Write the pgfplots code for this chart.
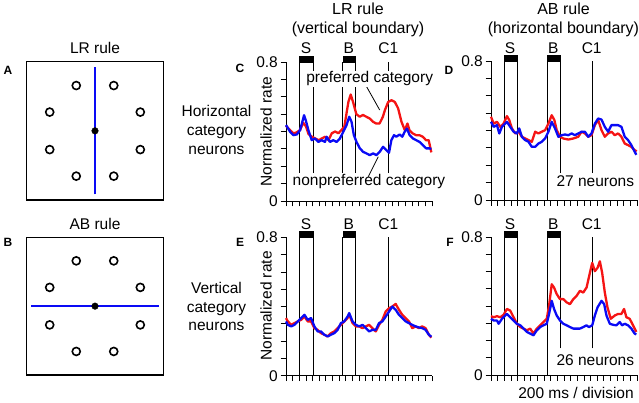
\documentclass[border=0pt]{standalone}
\usepackage{fontspec}
\setmainfont{Liberation Sans}
\usepackage{pgfplots}
\pgfplotsset{compat=1.18}
\newcommand\lab{\fontsize{15.5}{18.7}\selectfont}
\newcommand\ttl{\fontsize{16}{19}\selectfont}
\newcommand\plet{\fontsize{12}{14}\selectfont\bfseries}
\definecolor{myred}{RGB}{245,20,20}
\definecolor{myblue}{RGB}{10,10,245}
\pgfplotsset{
  panel/.style={
    scale only axis, width=146pt, height=139pt, anchor=south west,
    xmin=0, xmax=22, ymin=0, ymax=0.8,
    axis x line*=bottom, axis y line*=left,
    xtick={0,1,...,22}, xticklabel=\empty,
    ytick={0,0.1,0.2,0.3,0.4,0.5,0.6,0.7,0.8},
    yticklabels={0,,,,,,,,0.8},
    tick align=outside, major tick length=5.5pt,
    tick style={black, line width=0.8pt},
    axis line style={black, line width=0.9pt},
    yticklabel style={font=\lab, inner xsep=2.5pt},
    /pgf/number format/assume math mode=true,
    clip=false,
  },
  ev/.style={black, line width=0.9pt},
  rc/.style={myred, line width=2.3pt, line join=round},
  bc/.style={myblue, line width=2.3pt, line join=round},
  sq/.style={
    scale only axis, anchor=south west, ticks=none,
    axis line style={black, line width=1.4pt}, clip=false,
  },
  circ/.style={only marks, mark=o, mark size=4pt, mark options={line width=1.6pt, black}},
}
\begin{document}
\begin{tikzpicture}[x=1pt,y=1pt]
\useasboundingbox (0,0) rectangle (639,402);

% ---------- Panel A ----------
\begin{axis}[sq, at={(26.7pt,202pt)}, width=136.6pt, height=138.3pt,
  xmin=-68.3, xmax=68.3, ymin=-69.15, ymax=69.15]
\addplot[myblue, line width=1.6pt] coordinates {(0,-63.5) (0,63.5)};
\addplot[circ]
  coordinates {(-18.75,45.3) (18.75,45.3) (-45.3,18.75) (45.3,18.75)
               (-45.3,-18.75) (45.3,-18.75) (-18.75,-45.3) (18.75,-45.3)};
\addplot[only marks, mark=*, mark size=3.3pt, black] coordinates {(0,0)};
\end{axis}

% ---------- Panel B ----------
\begin{axis}[sq, at={(26.7pt,27pt)}, width=136.6pt, height=137.7pt,
  xmin=-68.3, xmax=68.3, ymin=-68.85, ymax=68.85]
\addplot[myblue, line width=1.6pt] coordinates {(-64,0) (64,0)};
\addplot[circ]
  coordinates {(-18.75,45.3) (18.75,45.3) (-45.3,18.75) (45.3,18.75)
               (-45.3,-18.75) (45.3,-18.75) (-18.75,-45.3) (18.75,-45.3)};
\addplot[only marks, mark=*, mark size=3.3pt, black] coordinates {(0,0)};
\end{axis}

% ---------- Panel C ----------
\begin{axis}[panel, at={(286pt,201pt)}]
\addplot[ev] coordinates {(2.05,0.16) (2.05,0.8)};
\addplot[ev] coordinates {(4.07,0.16) (4.07,0.8)};
\addplot[ev] coordinates {(8.55,0.16) (8.55,0.8)};
\addplot[ev] coordinates {(10.45,0.16) (10.45,0.8)};
\addplot[ev] coordinates {(15.4,0.16) (15.4,0.8)};
\addplot[fill=black, draw=black] coordinates {(2.05,0.8) (4.07,0.8) (4.07,0.835) (2.05,0.835)} -- cycle;
\addplot[fill=black, draw=black] coordinates {(8.55,0.8) (10.45,0.8) (10.45,0.835) (8.55,0.835)} -- cycle;
\addplot[rc] coordinates {(0,0.433)(0.6,0.408)(1.1,0.389)(1.6,0.395)(2.1,0.408)(2.6,0.45)(3.0,0.43)(3.4,0.385)(3.9,0.37)(4.4,0.36)(4.9,0.35)(5.4,0.36)(5.9,0.37)(6.4,0.35)(6.9,0.39)(7.4,0.40)(7.9,0.39)(8.4,0.41)(8.8,0.43)(9.1,0.50)(9.4,0.57)(9.75,0.613)(10.1,0.57)(10.6,0.50)(11.1,0.485)(11.6,0.495)(12.1,0.485)(12.6,0.475)(13.1,0.456)(13.6,0.446)(14.1,0.446)(14.6,0.485)(14.9,0.523)(15.4,0.57)(15.9,0.58)(16.4,0.57)(16.9,0.533)(17.4,0.456)(17.9,0.408)(18.3,0.446)(18.6,0.408)(19.1,0.389)(19.6,0.379)(20.1,0.379)(20.6,0.37)(21.1,0.35)(21.5,0.35)(21.9,0.28)};
\addplot[bc] coordinates {(0,0.437)(0.625,0.398)(1.125,0.379)(1.625,0.383)(2.125,0.408)(2.525,0.465)(2.725,0.494)(2.975,0.465)(3.375,0.408)(3.875,0.35)(4.375,0.36)(4.875,0.34)(5.375,0.35)(5.875,0.34)(6.125,0.37)(6.625,0.34)(7.125,0.35)(7.625,0.34)(8.125,0.36)(8.625,0.398)(9.125,0.437)(9.525,0.485)(9.875,0.456)(10.225,0.379)(10.625,0.34)(11.125,0.303)(11.625,0.283)(12.125,0.274)(12.625,0.264)(13.125,0.274)(13.625,0.264)(14.125,0.283)(14.625,0.312)(15.125,0.293)(15.525,0.278)(15.875,0.35)(16.275,0.379)(16.625,0.37)(17.125,0.383)(17.525,0.37)(17.875,0.398)(18.225,0.417)(18.625,0.379)(19.125,0.36)(19.625,0.35)(20.125,0.34)(20.625,0.322)(21.125,0.303)(21.625,0.303)(21.9,0.299)};
\end{axis}

% ---------- Panel D ----------
\begin{axis}[panel, at={(491pt,202pt)}]
\addplot[ev] coordinates {(2.0,0) (2.0,0.8)};
\addplot[ev] coordinates {(4.02,0) (4.02,0.8)};
\addplot[ev] coordinates {(8.5,0) (8.5,0.8)};
\addplot[ev] coordinates {(10.4,0.155) (10.4,0.8)};
\addplot[ev] coordinates {(15.35,0.155) (15.35,0.8)};
\addplot[fill=black, draw=black] coordinates {(2.0,0.8) (4.02,0.8) (4.02,0.835) (2.0,0.835)} -- cycle;
\addplot[fill=black, draw=black] coordinates {(8.5,0.8) (10.4,0.8) (10.4,0.835) (8.5,0.835)} -- cycle;
\addplot[rc] coordinates {(0,0.479)(0.4,0.44)(0.9,0.45)(1.4,0.421)(1.9,0.44)(2.4,0.483)(2.75,0.46)(3.15,0.412)(3.65,0.383)(4.15,0.393)(4.65,0.364)(5.15,0.354)(5.65,0.345)(6.15,0.335)(6.65,0.393)(7.15,0.383)(7.65,0.393)(8.15,0.402)(8.65,0.44)(9.15,0.488)(9.55,0.46)(9.9,0.402)(10.4,0.364)(10.9,0.354)(11.65,0.348)(12.4,0.354)(13.15,0.364)(13.65,0.393)(14.15,0.383)(14.65,0.364)(15.15,0.373)(15.65,0.431)(16.15,0.46)(16.65,0.402)(17.15,0.364)(17.65,0.383)(18.15,0.393)(18.65,0.373)(19.15,0.383)(19.65,0.364)(20.15,0.325)(20.65,0.316)(21.15,0.306)(21.65,0.287)(21.95,0.28)};
\addplot[bc] coordinates {(0,0.45)(0.4,0.421)(0.9,0.431)(1.25,0.383)(1.65,0.421)(2.4,0.45)(2.9,0.421)(3.4,0.393)(3.9,0.383)(4.25,0.412)(4.65,0.364)(5.15,0.345)(5.65,0.335)(6.15,0.306)(6.65,0.306)(7.15,0.325)(7.65,0.335)(8.15,0.354)(8.65,0.393)(9.15,0.45)(9.65,0.412)(10.15,0.364)(10.65,0.373)(11.15,0.377)(11.65,0.373)(12.15,0.383)(12.65,0.373)(13.15,0.383)(13.65,0.393)(14.15,0.393)(14.65,0.364)(15.15,0.383)(15.65,0.44)(16.15,0.469)(16.65,0.463)(17.15,0.421)(17.65,0.393)(18.15,0.431)(18.65,0.431)(19.15,0.431)(19.65,0.421)(20.15,0.364)(20.65,0.345)(21.15,0.316)(21.65,0.278)(21.9,0.26)};
\end{axis}

% ---------- Panel E ----------
\begin{axis}[panel, at={(286pt,26.3pt)}, height=138.4pt]
\addplot[ev] coordinates {(2.05,0) (2.05,0.8)};
\addplot[ev] coordinates {(4.07,0) (4.07,0.8)};
\addplot[ev] coordinates {(8.55,0) (8.55,0.8)};
\addplot[ev] coordinates {(10.45,0) (10.45,0.8)};
\addplot[ev] coordinates {(15.4,0) (15.4,0.8)};
\addplot[fill=black, draw=black] coordinates {(2.05,0.8) (4.07,0.8) (4.07,0.835) (2.05,0.835)} -- cycle;
\addplot[fill=black, draw=black] coordinates {(8.55,0.8) (10.45,0.8) (10.45,0.835) (8.55,0.835)} -- cycle;
\addplot[rc] coordinates {(0,0.333)(0.275,0.314)(0.775,0.294)(1.275,0.304)(1.775,0.314)(2.275,0.323)(2.775,0.342)(3.275,0.314)(3.775,0.314)(4.275,0.275)(4.775,0.265)(5.275,0.246)(5.775,0.237)(6.275,0.227)(6.775,0.246)(7.275,0.256)(7.775,0.275)(8.275,0.294)(8.775,0.314)(9.275,0.333)(9.525,0.352)(10.025,0.304)(10.525,0.285)(11.025,0.285)(11.525,0.275)(12.025,0.285)(12.525,0.294)(13.025,0.275)(13.525,0.256)(14.025,0.294)(14.525,0.323)(15.025,0.371)(15.525,0.39)(16.025,0.4)(16.525,0.415)(17.025,0.381)(17.525,0.352)(18.025,0.333)(18.525,0.314)(19.025,0.275)(19.525,0.285)(20.025,0.275)(20.525,0.285)(21.025,0.275)(21.525,0.237)(21.9,0.22)};
\addplot[bc] coordinates {(0,0.314)(0.275,0.294)(0.775,0.285)(1.275,0.294)(1.775,0.314)(2.275,0.333)(2.775,0.352)(3.275,0.323)(3.775,0.333)(4.275,0.285)(4.775,0.256)(5.275,0.256)(5.775,0.237)(6.275,0.227)(6.775,0.237)(7.275,0.246)(7.775,0.265)(8.275,0.304)(8.775,0.314)(9.275,0.342)(9.525,0.362)(10.025,0.314)(10.525,0.294)(11.025,0.285)(11.525,0.294)(12.025,0.275)(12.525,0.256)(13.025,0.265)(13.525,0.265)(14.025,0.304)(14.525,0.314)(15.025,0.342)(15.525,0.371)(16.025,0.4)(16.525,0.381)(17.025,0.352)(17.525,0.333)(18.025,0.314)(18.525,0.304)(19.025,0.294)(19.525,0.285)(20.025,0.279)(20.525,0.275)(21.025,0.265)(21.525,0.237)(21.9,0.225)};
\end{axis}

% ---------- Panel F ----------
\begin{axis}[panel, at={(491pt,27pt)}, height=138pt]
\addplot[ev] coordinates {(2.0,0) (2.0,0.8)};
\addplot[ev] coordinates {(4.02,0) (4.02,0.8)};
\addplot[ev] coordinates {(8.5,0) (8.5,0.8)};
\addplot[ev] coordinates {(10.4,0.155) (10.4,0.8)};
\addplot[ev] coordinates {(15.35,0.155) (15.35,0.8)};
\addplot[fill=black, draw=black] coordinates {(2.0,0.8) (4.02,0.8) (4.02,0.835) (2.0,0.835)} -- cycle;
\addplot[fill=black, draw=black] coordinates {(8.5,0.8) (10.4,0.8) (10.4,0.835) (8.5,0.835)} -- cycle;
\addplot[rc] coordinates {(0,0.341)(0.4,0.335)(0.9,0.341)(1.4,0.335)(1.9,0.349)(2.4,0.383)(2.9,0.373)(3.4,0.335)(3.9,0.297)(4.4,0.278)(4.9,0.269)(5.4,0.259)(5.9,0.269)(6.4,0.24)(6.9,0.269)(7.4,0.288)(7.9,0.307)(8.4,0.326)(8.75,0.402)(9.15,0.526)(9.5,0.507)(9.9,0.469)(10.4,0.44)(10.9,0.44)(11.4,0.421)(11.9,0.411)(12.4,0.44)(12.9,0.459)(13.4,0.488)(13.9,0.478)(14.4,0.507)(14.9,0.592)(15.25,0.65)(15.65,0.602)(16.05,0.621)(16.4,0.659)(16.75,0.592)(17.15,0.478)(17.55,0.392)(18.05,0.326)(18.65,0.345)(19.15,0.354)(19.65,0.354)(20.05,0.383)(20.4,0.335)(20.9,0.326)(21.4,0.288)(21.9,0.25)};
\addplot[bc] coordinates {(0,0.326)(0.4,0.316)(0.9,0.316)(1.15,0.297)(1.65,0.326)(2.4,0.354)(2.9,0.335)(3.4,0.316)(3.9,0.297)(4.4,0.288)(4.9,0.269)(5.4,0.25)(5.9,0.24)(6.4,0.23)(6.9,0.259)(7.4,0.278)(7.9,0.288)(8.4,0.297)(8.75,0.354)(9.15,0.43)(9.5,0.383)(9.9,0.345)(10.4,0.316)(10.9,0.297)(11.4,0.288)(11.9,0.278)(12.4,0.269)(12.9,0.269)(13.4,0.269)(13.9,0.278)(14.4,0.288)(14.75,0.278)(15.25,0.288)(15.65,0.345)(16.05,0.392)(16.65,0.43)(17.05,0.411)(17.4,0.345)(17.9,0.297)(18.4,0.291)(18.9,0.288)(19.4,0.307)(19.75,0.288)(20.15,0.297)(20.65,0.288)(21.15,0.269)(21.65,0.24)(21.9,0.235)};
\end{axis}

% ---------- Text ----------
\node[anchor=base, font=\lab] at (95,348) {LR rule};
\node[anchor=base, font=\lab] at (95,172.7) {AB rule};
\node[anchor=base, font=\ttl] at (358,387) {LR rule};
\node[anchor=base, font=\ttl] at (358,368.7) {(vertical boundary)};
\node[anchor=base, font=\ttl] at (563.5,387) {AB rule};
\node[anchor=base, font=\ttl] at (563.5,368.7) {(horizontal boundary)};

\node[font=\lab, align=center] at (216.5,272) {Horizontal\\category\\neurons};
\node[font=\lab, align=center] at (216.5,95.3) {Vertical\\category\\neurons};

\node[font=\lab, rotate=90] at (266,270.5) {Normalized rate};
\node[font=\lab, rotate=90] at (266,96) {Normalized rate};

% event labels
\node[anchor=base, font=\lab] at (306,348) {S};
\node[anchor=base, font=\lab] at (348.7,348) {B};
\node[anchor=base, font=\lab] at (388.3,348) {C1};
\node[anchor=base, font=\lab] at (306,172.7) {S};
\node[anchor=base, font=\lab] at (348.7,172.7) {B};
\node[anchor=base, font=\lab] at (388.3,172.7) {C1};
\node[anchor=base, font=\lab] at (510,348) {S};
\node[anchor=base, font=\lab] at (553.3,348) {B};
\node[anchor=base, font=\lab] at (591.7,348) {C1};
\node[anchor=base, font=\lab] at (510,172.7) {S};
\node[anchor=base, font=\lab] at (553.3,172.7) {B};
\node[anchor=base, font=\lab] at (591.7,172.7) {C1};

% annotations
\draw[black, line width=0.8pt] (364.7,318.7) -- (379.7,292);
\node[anchor=base, font=\lab, fill=white, inner sep=0.8pt] at (369.7,319.3) {preferred category};
\draw[black, line width=0.8pt] (368.3,225.3) -- (378.3,245.3);
\node[anchor=base, font=\lab] at (369,216) {nonpreferred category};
\node[anchor=base, font=\lab] at (595.3,215.3) {27 neurons};
\node[anchor=base, font=\lab] at (595.3,37) {26 neurons};
\node[anchor=base, font=\lab] at (576,3.7) {200 ms / division};

% panel letters
\node[font=\plet] at (8,332) {A};
\node[font=\plet] at (8,159.3) {B};
\node[font=\plet] at (240,334) {C};
\node[font=\plet] at (449,332) {D};
\node[font=\plet] at (240,160) {E};
\node[font=\plet] at (450,159.3) {F};
\end{tikzpicture}
\end{document}
